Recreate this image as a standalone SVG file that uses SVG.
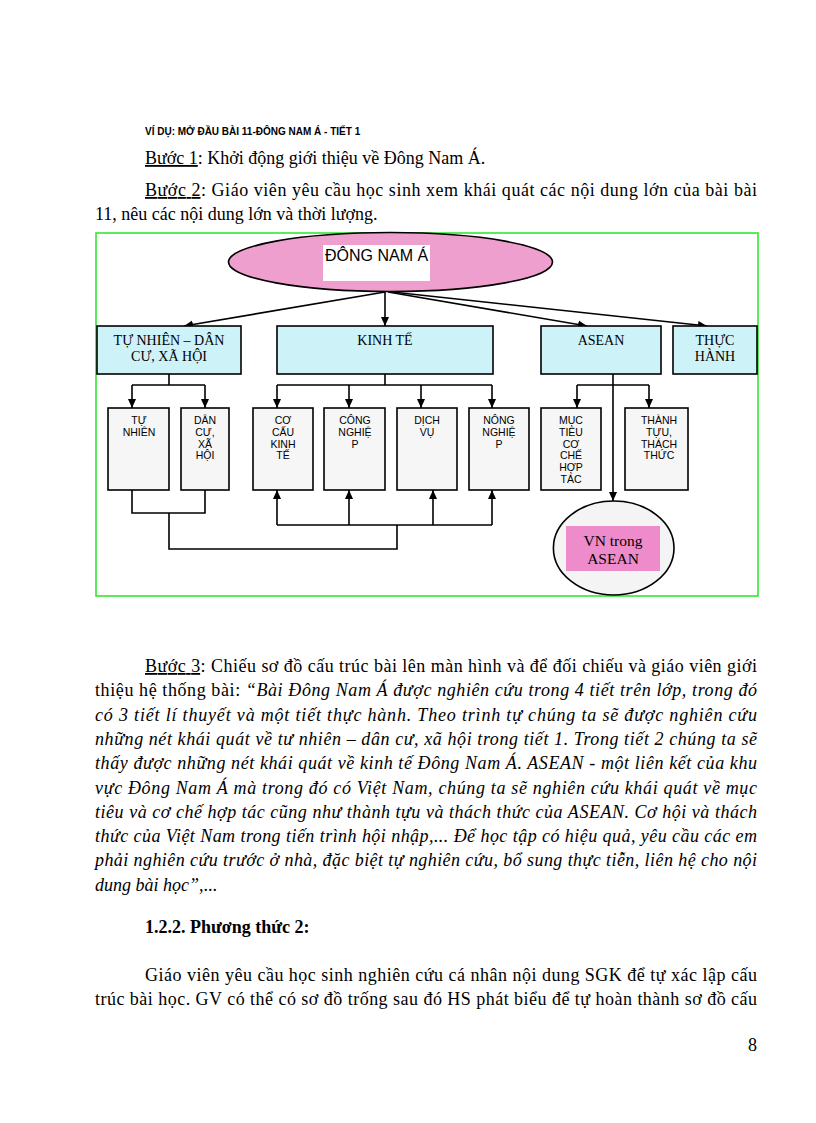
<svg xmlns="http://www.w3.org/2000/svg" width="816" height="1123" viewBox="0 0 816 1123">
<style>
.body{font-family:"Liberation Serif","Times New Roman",serif;font-size:18px;fill:#000}
.it{font-style:italic}
.ul{text-decoration:underline}
.head{font-family:"Liberation Sans",Arial,sans-serif;font-size:10px;font-weight:bold;fill:#000}
.bold{font-weight:bold}
.big{fill:#cdf3f8;stroke:#000;stroke-width:1.6}
.small{fill:#f6f6f6;stroke:#000;stroke-width:1.6}
.t1{font-family:"Liberation Serif","Times New Roman",serif;font-size:14px;text-anchor:middle;fill:#000}
.t2{font-family:"Liberation Sans",Arial,sans-serif;font-size:10.5px;text-anchor:middle;fill:#000}
.conn{fill:none;stroke:#000;stroke-width:1.6}
</style>
<defs>
<marker id="ah" markerWidth="10" markerHeight="10" refX="9" refY="5" orient="auto" markerUnits="userSpaceOnUse">
<path d="M0,1 L9,5 L0,9 Z" fill="#000"/>
</marker>
</defs>
<rect width="816" height="1123" fill="#fff"/>

<text class="head" x="145" y="135">VÍ DỤ: MỞ ĐẦU BÀI 11-ĐÔNG NAM Á - TIẾT 1</text>
<text class="body" x="145" y="164"><tspan class="ul">Bước 1</tspan>: Khởi động giới thiệu về Đông Nam Á.</text>
<text class="body" x="145" y="196" textLength="612" lengthAdjust="spacing"><tspan class="ul">Bước 2</tspan>: Giáo viên yêu cầu học sinh xem khái quát các nội dung lớn của bài bài</text>
<text class="body" x="95" y="220">11, nêu các nội dung lớn và thời lượng.</text>

<rect x="96" y="233" width="662" height="363" fill="none" stroke="#33e633" stroke-width="1.6"/>

<g id="connectors">
<line class="conn" x1="385" y1="292" x2="184" y2="326" marker-end="url(#ah)"/>
<line class="conn" x1="385" y1="292" x2="385" y2="326" marker-end="url(#ah)"/>
<line class="conn" x1="388" y1="292" x2="587" y2="326" marker-end="url(#ah)"/>
<line class="conn" x1="392" y1="292" x2="707" y2="326" marker-end="url(#ah)"/>
<path class="conn" d="M169,374 V385 M132,385 H205 M385,374 V385 M277,385 H492 M577,385 H649"/>
<line class="conn" x1="132" y1="385" x2="132" y2="408" marker-end="url(#ah)"/>
<line class="conn" x1="205" y1="385" x2="205" y2="408" marker-end="url(#ah)"/>
<line class="conn" x1="277" y1="385" x2="277" y2="408" marker-end="url(#ah)"/>
<line class="conn" x1="349" y1="385" x2="349" y2="408" marker-end="url(#ah)"/>
<line class="conn" x1="421" y1="385" x2="421" y2="408" marker-end="url(#ah)"/>
<line class="conn" x1="492" y1="385" x2="492" y2="408" marker-end="url(#ah)"/>
<line class="conn" x1="577" y1="385" x2="577" y2="408" marker-end="url(#ah)"/>
<line class="conn" x1="649" y1="385" x2="649" y2="408" marker-end="url(#ah)"/>
<line class="conn" x1="613" y1="374" x2="613" y2="501" marker-end="url(#ah)"/>
<path class="conn" d="M132,490 V513 H205 V490 M169,513 V549 H397 V525 M277,525 H492"/>
<line class="conn" x1="277" y1="525" x2="277" y2="490" marker-end="url(#ah)"/>
<line class="conn" x1="349" y1="525" x2="349" y2="490" marker-end="url(#ah)"/>
<line class="conn" x1="433" y1="525" x2="433" y2="490" marker-end="url(#ah)"/>
<line class="conn" x1="492" y1="525" x2="492" y2="490" marker-end="url(#ah)"/>
</g>

<g id="dong-nam-a">
<ellipse cx="390.5" cy="262" rx="162" ry="29.5" fill="#ef9fcd" stroke="#000" stroke-width="1.6"/>
<rect x="323" y="245" width="107" height="36" fill="#fff"/>
<text x="325" y="261" font-family="Liberation Sans, Arial, sans-serif" font-size="16">ĐÔNG NAM Á</text>
</g>

<g id="tu-nhien-dan-cu">
<rect class="big" x="97" y="326" width="144" height="48"/>
<text class="t1" x="169" y="345">TỰ NHIÊN – DÂN</text>
<text class="t1" x="169" y="361">CƯ, XÃ HỘI</text>
</g>
<g id="kinh-te">
<rect class="big" x="277" y="326" width="216" height="48"/>
<text class="t1" x="385" y="345">KINH TẾ</text>
</g>
<g id="asean">
<rect class="big" x="541" y="326" width="120" height="48"/>
<text class="t1" x="601" y="345">ASEAN</text>
</g>
<g id="thuc-hanh">
<rect class="big" x="673" y="326" width="84" height="48"/>
<text class="t1" x="715" y="345">THỰC</text>
<text class="t1" x="715" y="361">HÀNH</text>
</g>

<g id="tu-nhien">
<rect class="small" x="108" y="408" width="61" height="82"/>
<text class="t2" x="139" y="424">TỰ</text>
<text class="t2" x="139" y="436">NHIÊN</text>
</g>
<g id="dan-cu">
<rect class="small" x="181" y="408" width="48" height="82"/>
<text class="t2" x="205" y="424">DÂN</text>
<text class="t2" x="205" y="436">CƯ,</text>
<text class="t2" x="205" y="447.5">XÃ</text>
<text class="t2" x="205" y="459">HỘI</text>
</g>
<g id="co-cau">
<rect class="small" x="253" y="408" width="60" height="82"/>
<text class="t2" x="283" y="424">CƠ</text>
<text class="t2" x="283" y="436">CẤU</text>
<text class="t2" x="283" y="447.5">KINH</text>
<text class="t2" x="283" y="459">TẾ</text>
</g>
<g id="cong-nghiep">
<rect class="small" x="324" y="408" width="61" height="82"/>
<text class="t2" x="355" y="424">CÔNG</text>
<text class="t2" x="355" y="436">NGHIỆ</text>
<text class="t2" x="355" y="447.5">P</text>
</g>
<g id="dich-vu">
<rect class="small" x="397" y="408" width="60" height="82"/>
<text class="t2" x="427" y="424">DỊCH</text>
<text class="t2" x="427" y="436">VỤ</text>
</g>
<g id="nong-nghiep">
<rect class="small" x="469" y="408" width="60" height="82"/>
<text class="t2" x="499" y="424">NÔNG</text>
<text class="t2" x="499" y="436">NGHIỆ</text>
<text class="t2" x="499" y="447.5">P</text>
</g>
<g id="muc-tieu">
<rect class="small" x="541" y="408" width="60" height="82"/>
<text class="t2" x="571" y="424">MỤC</text>
<text class="t2" x="571" y="436">TIÊU</text>
<text class="t2" x="571" y="447.5">CƠ</text>
<text class="t2" x="571" y="459">CHẾ</text>
<text class="t2" x="571" y="471">HỢP</text>
<text class="t2" x="571" y="483">TÁC</text>
</g>
<g id="thanh-tuu">
<rect class="small" x="625" y="408" width="63" height="82"/>
<text class="t2" x="659" y="424">THÀNH</text>
<text class="t2" x="659" y="436">TỰU,</text>
<text class="t2" x="659" y="447.5">THÁCH</text>
<text class="t2" x="659" y="459">THỨC</text>
</g>
<g id="vn-trong-asean">
<ellipse cx="613.7" cy="548" rx="60.3" ry="47" fill="#f4f4f4" stroke="#000" stroke-width="1.6"/>
<rect x="566" y="526" width="94" height="45" fill="#ee8ccb"/>
<text x="613" y="546" font-family="Liberation Serif, Times New Roman, serif" font-size="15.5" text-anchor="middle">VN trong</text>
<text x="613" y="563.5" font-family="Liberation Serif, Times New Roman, serif" font-size="15.5" text-anchor="middle">ASEAN</text>
</g>

<text class="body" x="145" y="672" textLength="612" lengthAdjust="spacing"><tspan class="ul">Bước 3</tspan>: Chiếu sơ đồ cấu trúc bài lên màn hình và để đối chiếu và giáo viên giới</text>
<text class="body" x="95" y="696.3" textLength="662" lengthAdjust="spacing">thiệu hệ thống bài: <tspan class="it">“Bài Đông Nam Á được nghiên cứu trong 4 tiết trên lớp, trong đó</tspan></text>
<text class="body it" x="95" y="720.6" textLength="662" lengthAdjust="spacing">có 3 tiết lí thuyết và một tiết thực hành. Theo trình tự chúng ta sẽ được nghiên cứu</text>
<text class="body it" x="95" y="744.9" textLength="662" lengthAdjust="spacing">những nét khái quát về tư nhiên – dân cư, xã hội trong tiết 1. Trong tiết 2 chúng ta sẽ</text>
<text class="body it" x="95" y="769.2" textLength="662" lengthAdjust="spacing">thấy được những nét khái quát về kinh tế Đông Nam Á. ASEAN - một liên kết của khu</text>
<text class="body it" x="95" y="793.5" textLength="662" lengthAdjust="spacing">vực Đông Nam Á mà trong đó có Việt Nam, chúng ta sẽ nghiên cứu khái quát về mục</text>
<text class="body it" x="95" y="817.8" textLength="662" lengthAdjust="spacing">tiêu và cơ chế hợp tác cũng như thành tựu và thách thức của ASEAN. Cơ hội và thách</text>
<text class="body it" x="95" y="842.1" textLength="662" lengthAdjust="spacing">thức của Việt Nam trong tiến trình hội nhập,... Để học tập có hiệu quả, yêu cầu các em</text>
<text class="body it" x="95" y="866.4" textLength="662" lengthAdjust="spacing">phải nghiên cứu trước ở nhà, đặc biệt tự nghiên cứu, bổ sung thực tiễn, liên hệ cho nội</text>
<text class="body" x="95" y="890.7"><tspan class="it">dung bài học”</tspan>,...</text>

<text class="body bold" x="145" y="933">1.2.2. Phương thức 2:</text>
<text class="body" x="145" y="981" textLength="612" lengthAdjust="spacing">Giáo viên yêu cầu học sinh nghiên cứu cá nhân nội dung SGK để tự xác lập cấu</text>
<text class="body" x="95" y="1005.3" textLength="662" lengthAdjust="spacing">trúc bài học. GV có thể có sơ đồ trống sau đó HS phát biểu để tự hoàn thành sơ đồ cấu</text>
<text class="body" x="757" y="1051" text-anchor="end">8</text>
</svg>
